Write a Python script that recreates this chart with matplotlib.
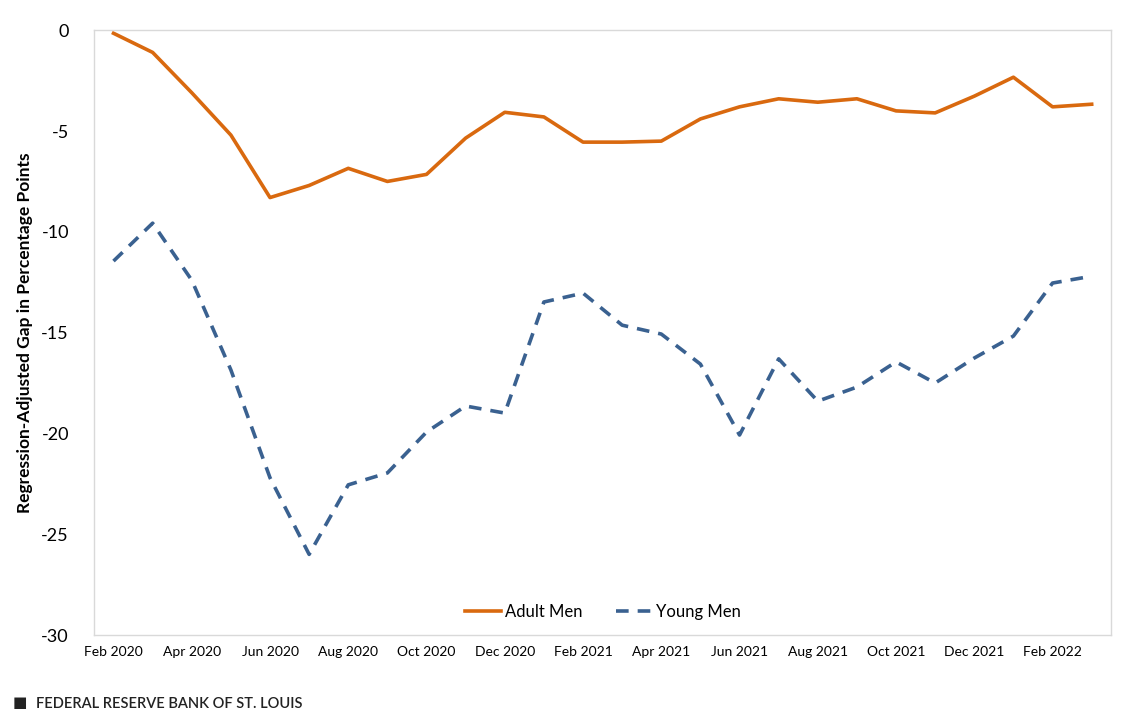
import matplotlib
matplotlib.use('Agg')
import matplotlib.pyplot as plt

plt.rcParams['font.family'] = ['Lato', 'DejaVu Sans']

months = ['Feb 2020', 'Mar 2020', 'Apr 2020', 'May 2020', 'Jun 2020', 'Jul 2020',
          'Aug 2020', 'Sep 2020', 'Oct 2020', 'Nov 2020', 'Dec 2020', 'Jan 2021',
          'Feb 2021', 'Mar 2021', 'Apr 2021', 'May 2021', 'Jun 2021', 'Jul 2021',
          'Aug 2021', 'Sep 2021', 'Oct 2021', 'Nov 2021', 'Dec 2021', 'Jan 2022',
          'Feb 2022', 'Mar 2022']

adult_men = [-0.15, -1.1, -3.1, -5.2, -8.3, -7.7, -6.85, -7.5, -7.15, -5.35,
             -4.07, -4.3, -5.55, -5.55, -5.5, -4.4, -3.8, -3.4, -3.57, -3.4,
             -4.0, -4.1, -3.27, -2.33, -3.8, -3.67]

young_men = [-11.45, -9.57, -12.4, -16.85, -22.2, -26.0, -22.55, -21.96, -19.93,
             -18.64, -18.99, -13.48, -13.04, -14.63, -15.07, -16.56, -20.08, -16.3,
             -18.4, -17.7, -16.45, -17.5, -16.26, -15.17, -12.54, -12.2]

x = list(range(len(months)))

fig = plt.figure(figsize=(11.36, 7.2), dpi=100)
ax = fig.add_axes([0.0827, 0.118, 0.8955, 0.84])

ax.plot(x, adult_men, color='#D9690F', lw=2.6, label='Adult Men')
ax.plot(x, young_men, color='#3A6190', lw=2.6, ls=(0, (3.5, 2.5)), label='Young Men')

ax.set_xlim(-0.5, len(months) - 0.5)
ax.set_ylim(-30, 0)
ax.set_yticks([0, -5, -10, -15, -20, -25, -30])
ax.set_yticklabels(['0', '-5', '-10', '-15', '-20', '-25', '-30'], fontsize=13)
ax.set_xticks(x[::2])
ax.set_xticklabels(months[::2], fontsize=10)
ax.tick_params(length=0, pad=8)
ax.tick_params(axis='y', pad=18)

for s in ax.spines.values():
    s.set_color('#D9D9D9')
    s.set_linewidth(1)

ax.set_ylabel('Regression-Adjusted Gap in Percentage Points', fontsize=12.5,
              fontweight='bold', labelpad=6)

ax.legend(loc='lower center', bbox_to_anchor=(0.5, 0.0), ncol=2, frameon=False,
          fontsize=12, handlelength=2.2, handletextpad=0.2, columnspacing=2)

fig.text(0.011, 0.023, '\u25A0', fontsize=11, color='#222222', va='center')
fig.text(0.032, 0.022, 'FEDERAL RESERVE BANK OF ST. LOUIS', fontsize=10.5,
         color='#222222', va='center', fontweight='semibold')

fig.savefig('out.png', dpi=100)
